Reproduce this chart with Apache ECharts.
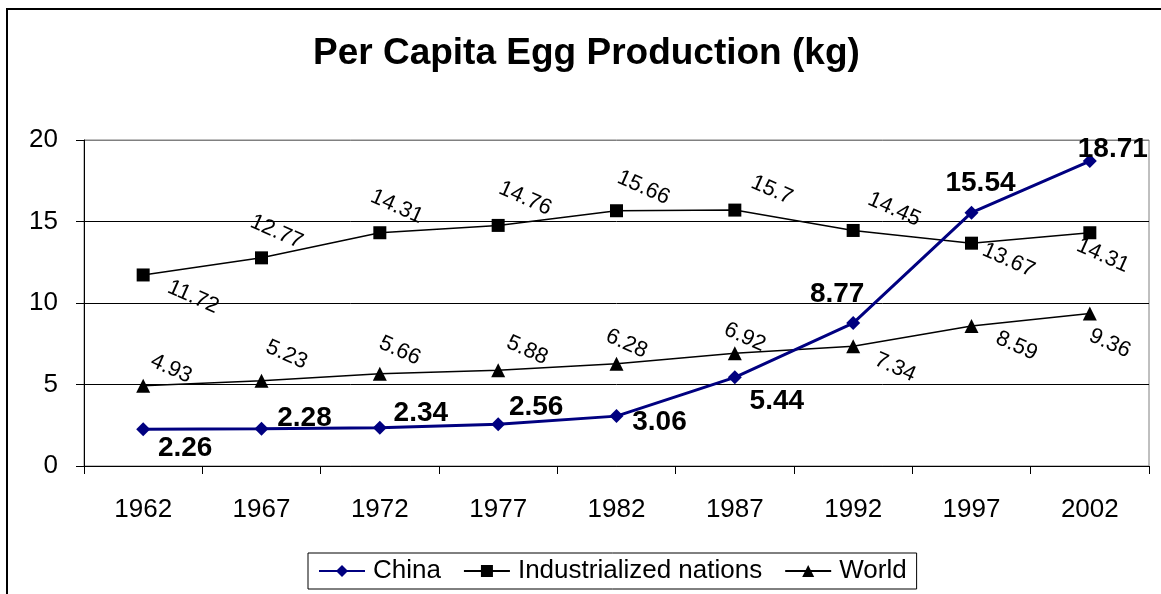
<!DOCTYPE html>
<html>
<head>
<meta charset="utf-8">
<script src="https://cdn.jsdelivr.net/npm/echarts@6/dist/echarts.min.js"></script>
<style>
    html, body { margin: 0; padding: 0; background: #fff; }
    #main { width: 1161px; height: 594px; }
</style>
</head>
<body>
<div id="main"></div>
<script>
var years = ['1962', '1967', '1972', '1977', '1982', '1987', '1992', '1997', '2002'];
var china = [2.26, 2.28, 2.34, 2.56, 3.06, 5.44, 8.77, 15.54, 18.71];
var industrialized = [11.72, 12.77, 14.31, 14.76, 15.66, 15.7, 14.45, 13.67, 14.31];
var world = [4.93, 5.23, 5.66, 5.88, 6.28, 6.92, 7.34, 8.59, 9.36];

// label placement (px from the marker)
var chinaLabelPos = [[42, 19], [43, -11], [41, -15], [38, -17], [43, 6], [42, 24], [-16, -29], [9, -29], [23, -12]];
var indLabelPos = [[50, 22], [15, -26], [17, -26], [27, -27], [27, -23], [37, -20], [41, -21], [37, 17], [13, 23]];
var worldLabelPos = [[28, -17], [25, -26], [20, -23], [29, -20], [10, -20], [10, -16], [42, 21], [45, 20], [20, 30]];

var FONT = '"Liberation Sans", Arial, sans-serif';
var ROT = -24;

// offset gets turned with the label, so turn it back first
var unrotate = function (p, deg) {
    var a = deg * Math.PI / 180;
    var c = Math.cos(a), s = Math.sin(a);
    return [c * p[0] - s * p[1], s * p[0] + c * p[1]];
};

var buildData = function (vals, pos, rot) {
    var out = [];
    for (var i = 0; i < vals.length; i++) {
        out.push({
            value: vals[i],
            label: {offset: rot ? unrotate(pos[i], rot) : pos[i]}
        });
    }
    return out;
};

var chart = echarts.init(document.getElementById('main'));

var option = {
    animation: false,
    backgroundColor: '#fff',
    title: {
        text: 'Per Capita Egg Production (kg)',
        left: 313,
        top: 35,
        padding: 0,
        textStyle: {fontFamily: FONT, fontSize: 37, fontWeight: 'bold', color: '#000'}
    },
    graphic: [{
        type: 'rect',
        shape: {x: 7, y: 9, width: 1175, height: 600},
        style: {fill: 'none', stroke: '#000', lineWidth: 2},
        silent: true,
        z: 100
    }],
    legend: {
        left: 308,
        top: 553,
        padding: [5, 10],
        itemGap: 22,
        itemWidth: 46,
        itemHeight: 15,
        borderColor: '#000',
        borderWidth: 1,
        textStyle: {fontFamily: FONT, fontSize: 26, color: '#000', padding: [0, 0, 0, 3]},
        data: ['China', 'Industrialized nations', 'World']
    },
    grid: {
        left: 84,
        right: 12,
        top: 140,
        bottom: 128,
        show: true,
        borderColor: '#808080',
        borderWidth: 1
    },
    xAxis: {
        type: 'category',
        data: years,
        boundaryGap: true,
        axisLine: {lineStyle: {color: '#000', width: 1}},
        axisTick: {show: true, length: 8, lineStyle: {color: '#000'}},
        axisLabel: {margin: 31, fontFamily: FONT, fontSize: 26, color: '#000'},
        splitLine: {show: false}
    },
    yAxis: {
        type: 'value',
        min: 0,
        max: 20,
        interval: 5,
        axisLine: {show: true, lineStyle: {color: '#000', width: 1}},
        axisTick: {show: true, length: 8, lineStyle: {color: '#000'}},
        axisLabel: {margin: 26, fontFamily: FONT, fontSize: 26, color: '#000'},
        splitLine: {show: true, lineStyle: {color: ['#000', '#000', '#000', '#000', '#808080'], width: 1}}
    },
    series: [
        {
            name: 'China',
            type: 'line',
            z: 5,
            data: buildData(china, chinaLabelPos, 0),
            symbol: 'diamond',
            symbolSize: 14,
            lineStyle: {color: '#000080', width: 3},
            itemStyle: {color: '#000080'},
            label: {
                show: true,
                position: 'inside',
                align: 'center',
                verticalAlign: 'middle',
                fontFamily: FONT,
                fontSize: 28,
                fontWeight: 'bold',
                color: '#000'
            }
        },
        {
            name: 'Industrialized nations',
            type: 'line',
            z: 3,
            data: buildData(industrialized, indLabelPos, ROT),
            symbol: 'rect',
            symbolSize: 13,
            lineStyle: {color: '#000', width: 1.5},
            itemStyle: {color: '#000'},
            label: {
                show: true,
                position: 'inside',
                align: 'center',
                verticalAlign: 'middle',
                rotate: ROT,
                fontFamily: FONT,
                fontSize: 22,
                color: '#000'
            }
        },
        {
            name: 'World',
            type: 'line',
            z: 3,
            data: buildData(world, worldLabelPos, ROT),
            symbol: 'triangle',
            symbolSize: 14,
            lineStyle: {color: '#000', width: 1.5},
            itemStyle: {color: '#000'},
            label: {
                show: true,
                position: 'inside',
                align: 'center',
                verticalAlign: 'middle',
                rotate: ROT,
                fontFamily: FONT,
                fontSize: 22,
                color: '#000'
            }
        }
    ]
};

chart.setOption(option);
</script>
</body>
</html>
